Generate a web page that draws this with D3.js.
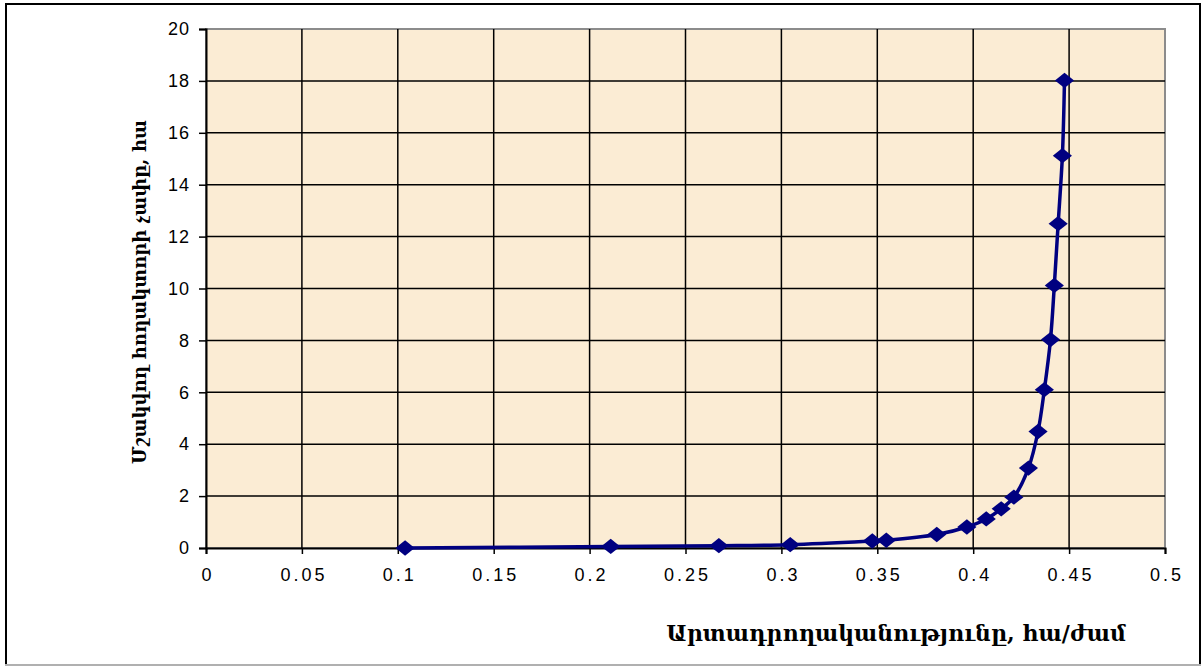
<!DOCTYPE html>
<html>
<head>
<meta charset="utf-8">
<script src="https://cdn.jsdelivr.net/npm/d3@7"></script>
<style>
  body { margin: 0; background: #fff; }
  svg { display: block; }
</style>
</head>
<body>
<div id="chart"></div>
<script>
// values
const xValues = [0.1038, 0.211, 0.2674, 0.3046, 0.3474, 0.3547, 0.381, 0.3967, 0.4068, 0.4146, 0.4212, 0.4288, 0.4338, 0.4371, 0.4403, 0.4423, 0.4443, 0.4465, 0.4476];
const yValues = [0, 0.06, 0.09, 0.13, 0.27, 0.3, 0.52, 0.81, 1.12, 1.51, 1.96, 3.08, 4.49, 6.1, 8.03, 10.12, 12.5, 15.12, 18.02];
const xTicks = [0, 0.05, 0.1, 0.15, 0.2, 0.25, 0.3, 0.35, 0.4, 0.45, 0.5];
const yTicks = [0, 2, 4, 6, 8, 10, 12, 14, 16, 18, 20];
const xTitle = 'Արտադրողականությունը, հա/ժամ';
const yTitle = 'Մշակվող հողակտորի չափը, հա';

const width = 1203, height = 666;
const plot = { left: 206, top: 29, right: 1165, bottom: 548 };

const svg = d3.select('#chart')
              .append('svg')
              .attr('width', width)
              .attr('height', height);

// outer frame
svg.append('rect')
   .attr('x', 6).attr('y', 4)
   .attr('width', 1194).attr('height', 661)
   .attr('fill', '#fff')
   .attr('stroke', '#000')
   .attr('stroke-width', 2);
svg.append('line')
   .attr('x1', 5).attr('x2', 1201).attr('y1', 665).attr('y2', 665)
   .attr('stroke', '#b0b0b0').attr('stroke-width', 2);

const xScale = d3.scaleLinear().domain([0, 0.5]).range([plot.left, plot.right]);
const yScale = d3.scaleLinear().domain([0, 20]).range([plot.bottom, plot.top]);

// plot background
svg.append('rect')
   .attr('x', plot.left).attr('y', plot.top)
   .attr('width', plot.right - plot.left)
   .attr('height', plot.bottom - plot.top)
   .attr('fill', '#fbecd4')
   .attr('stroke', '#8c8c8c')
   .attr('stroke-width', 2);

// grid
svg.append('g')
   .selectAll('line')
   .data(yTicks.slice(1, -1))
   .enter()
   .append('line')
   .attr('x1', plot.left).attr('x2', plot.right)
   .attr('y1', d => yScale(d)).attr('y2', d => yScale(d))
   .attr('stroke', '#000').attr('stroke-width', 1.5);

svg.append('g')
   .selectAll('line')
   .data(xTicks.slice(1, -1))
   .enter()
   .append('line')
   .attr('y1', plot.top).attr('y2', plot.bottom)
   .attr('x1', d => xScale(d)).attr('x2', d => xScale(d))
   .attr('stroke', '#000').attr('stroke-width', 1.5);

// axes
const xAxis = d3.axisBottom(xScale)
                .tickValues(xTicks)
                .tickFormat(d => d3.format('')(d))
                .tickSize(6)
                .tickPadding(14);
const yAxis = d3.axisLeft(yScale)
                .tickValues(yTicks)
                .tickSize(7)
                .tickPadding(10);

const gx = svg.append('g')
   .attr('transform', `translate(0, ${plot.bottom})`)
   .call(xAxis);
const gy = svg.append('g')
   .attr('transform', `translate(${plot.left}, 0)`)
   .call(yAxis);

[gx, gy].forEach(g => {
  g.select('.domain').attr('stroke', '#000').attr('stroke-width', 2);
  g.selectAll('.tick line').attr('stroke', '#000').attr('stroke-width', 1.5);
  g.selectAll('.tick text')
   .attr('fill', '#000')
   .style('font-family', '"Liberation Sans", Arial, sans-serif')
   .style('font-size', '18px');
});
gx.selectAll('.tick text').style('letter-spacing', '3px').attr('dx', '1.5');
gy.selectAll('.tick text').style('letter-spacing', '1px').attr('dx', '1');

// curve
const points = xValues.map((x, i) => [x, yValues[i]]);
const line = d3.line()
               .x(d => xScale(d[0]))
               .y(d => yScale(d[1]))
               .curve(d3.curveCatmullRom.alpha(0.5));

svg.append('path')
   .datum(points)
   .attr('d', line)
   .attr('fill', 'none')
   .attr('stroke', '#000080')
   .attr('stroke-width', 3.5);

svg.selectAll('.marker')
   .data(points)
   .enter()
   .append('path')
   .attr('class', 'marker')
   .attr('d', d3.symbol().type(d3.symbolDiamond2).size(150))
   .attr('transform', d => `translate(${xScale(d[0])}, ${yScale(d[1])}) scale(1.25, 1)`)
   .attr('fill', '#000080');

// titles
svg.append('text')
   .attr('x', 896)
   .attr('y', 641)
   .attr('text-anchor', 'middle')
   .style('font-family', '"DejaVu Serif", serif')
   .style('font-weight', 'bold')
   .style('font-size', '22px')
   .text(xTitle);

svg.append('text')
   .attr('transform', 'translate(146, 292) rotate(-90)')
   .attr('text-anchor', 'middle')
   .style('font-family', '"DejaVu Serif", serif')
   .style('font-weight', 'bold')
   .style('font-size', '18px')
   .text(yTitle);
</script>
</body>
</html>
